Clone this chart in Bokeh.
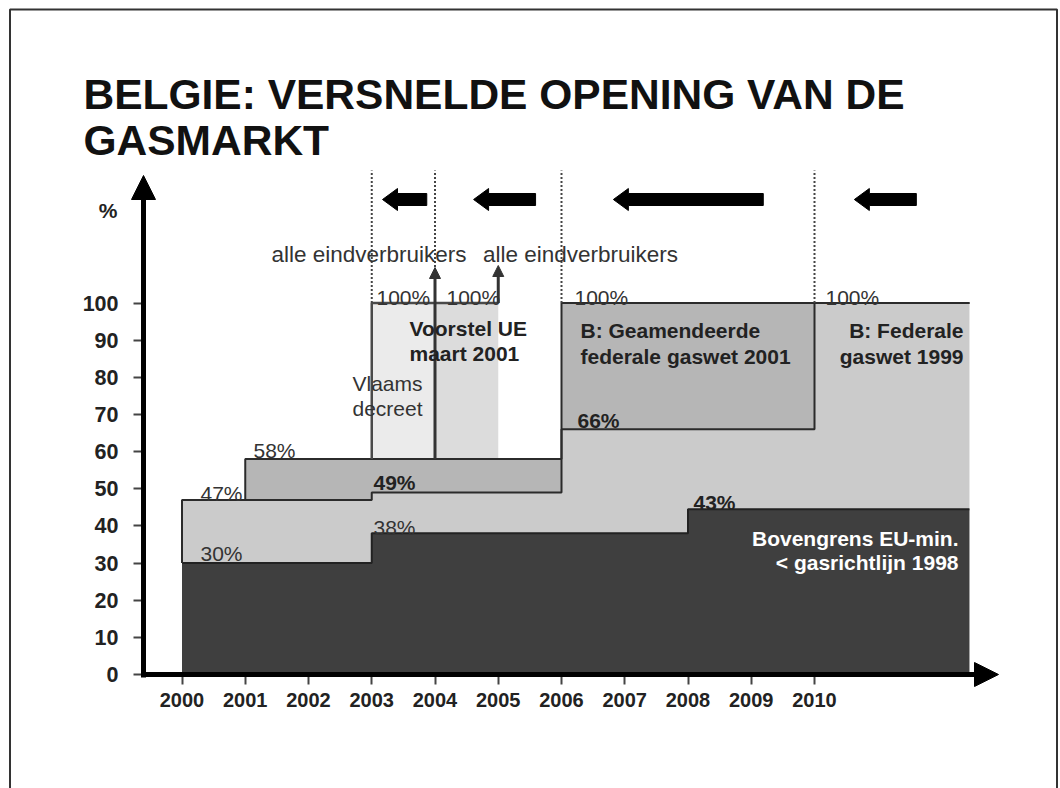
from bokeh.plotting import figure
from bokeh.models import Range1d, FixedTicker, Label, Arrow, NormalHead, PolyAnnotation
from bokeh.embed import file_html
from bokeh.resources import INLINE

# ---------------- data ----------------
years = [2000, 2001, 2002, 2003, 2004, 2005, 2006, 2007, 2008, 2009, 2010]
y_ticks = [0, 10, 20, 30, 40, 50, 60, 70, 80, 90, 100]
x_end = 2012.45

# Bovengrens EU-minimum (gasrichtlijn 1998)
eu_years = [2000, 2003, 2008]
eu_share = [30, 38, 44.5]
eu_labels = ["30%", "38%", "43%"]

# B: Federale gaswet 1999
fed99_years = [2000, 2003, 2006, 2010]
fed99_share = [47, 49, 66, 100]
fed99_labels = ["47%", "49%", "66%", "100%"]

# B: Geamendeerde federale gaswet 2001
fed01_years = [2001, 2006]
fed01_share = [58, 100]
fed01_labels = ["58%", "100%"]

# Vlaams decreet / Voorstel UE maart 2001
vlaams_years = [2003, 2004]
vlaams_share = 100
ue_years = [2004, 2005]
ue_share = 100

milestone_years = [2003, 2004, 2006, 2010]
speedup_tail = [2003.87, 2005.59, 2009.19, 2011.61]
speedup_tip = [2003.17, 2004.61, 2006.82, 2010.63]

title_lines = ["BELGIE: VERSNELDE OPENING VAN DE", "GASMARKT"]

# ---------------- geometry (frame = whole canvas) ----------------
W, H = 1060, 788
PX_YEAR = 63.25          # pixels per year
PX_PCT = 3.715           # pixels per percent
X0_PX, Y0_PX = 181.5, 674  # pixel position of (2000, 0)
XR = (2000 - X0_PX / PX_YEAR, 2000 + (W - X0_PX) / PX_YEAR)
YR = (-(H - Y0_PX) / PX_PCT, Y0_PX / PX_PCT)
ux = 1.0 / PX_YEAR
uy = 1.0 / PX_PCT


def sx(px):
    return XR[0] + px * ux


def sy(py):
    return YR[1] - py * uy


def step_val(xs, ys, x):
    v = None
    for a, b in zip(xs, ys):
        if a <= x:
            v = b
    return v


FONT = "Liberation Sans"

p = figure(width=W, height=H, output_backend="svg", toolbar_location=None,
           x_range=Range1d(*XR), y_range=Range1d(*YR), title=None,
           min_border_left=0, min_border_right=0, min_border_top=0,
           min_border_bottom=0)
p.outline_line_color = None
p.grid.visible = False
p.background_fill_color = "white"
p.border_fill_color = "white"

# axes (drawn inside the frame at the arrow positions)
p.xaxis.ticker = FixedTicker(ticks=years)
p.yaxis.ticker = FixedTicker(ticks=y_ticks)
p.xaxis.fixed_location = 0
p.yaxis.fixed_location = sx(143)
for ax in (p.xaxis, p.yaxis):
    ax.axis_line_color = None
    ax.major_tick_in = 0
    ax.major_tick_out = 10
    ax.minor_tick_out = 0
    ax.minor_tick_in = 0
    ax.major_tick_line_color = "#444444"
    ax.major_tick_line_width = 2
    ax.major_label_text_font = FONT
    ax.major_label_text_font_style = "bold"
    ax.major_label_text_color = "#222222"
p.yaxis.major_label_text_font_size = "21.5px"
p.xaxis.major_label_text_font_size = "20px"
p.yaxis.major_label_standoff = 15
p.xaxis.major_label_standoff = 8

# ---------------- filled areas ----------------
dark_x = eu_years + [x_end]
dark_y = eu_share + [eu_share[-1]]
p.varea_step(x=dark_x, y1=[0] * len(dark_x), y2=dark_y, step_mode="after",
             fill_color="#3f3f3f")

g1 = sorted(set(eu_years + fed99_years + [x_end]))
p.varea_step(x=g1, y1=[step_val(eu_years, eu_share, x) for x in g1],
             y2=[step_val(fed99_years, fed99_share, x) for x in g1],
             step_mode="after", fill_color="#cbcbcb")

g2 = sorted(set([x for x in eu_years + fed99_years + fed01_years + [x_end] if x >= fed01_years[0]]))
p.varea_step(x=g2, y1=[step_val(fed99_years, fed99_share, x) for x in g2],
             y2=[max(step_val(fed01_years, fed01_share, x), step_val(fed99_years, fed99_share, x)) for x in g2],
             step_mode="after", fill_color="#b6b6b6")

p.quad(left=[vlaams_years[0]], right=[vlaams_years[1]], bottom=[fed01_share[0]],
       top=[vlaams_share], fill_color="#ebebeb", line_color=None)
p.quad(left=[ue_years[0]], right=[ue_years[1]], bottom=[fed01_share[0]],
       top=[ue_share], fill_color="#dcdcdc", line_color=None)

# ---------------- outlines ----------------
OL = "#2b2b2b"
p.step(x=dark_x, y=dark_y, mode="after", line_color="#222222", line_width=2)
p.step(x=[fed99_years[0]] + fed99_years + [x_end],
       y=[eu_share[0]] + fed99_share + [fed99_share[-1]],
       mode="after", line_color=OL, line_width=2)
p.step(x=[fed01_years[0]] + fed01_years + [x_end],
       y=[step_val(fed99_years, fed99_share, fed01_years[0])] + fed01_share + [fed01_share[-1]],
       mode="after", line_color=OL, line_width=2)
p.line(x=[vlaams_years[0], vlaams_years[0], ue_years[1]],
       y=[fed01_share[0], vlaams_share, ue_share], line_color="#4a4a4a", line_width=2.5)

# dotted milestone lines
p.segment(x0=milestone_years, y0=[100] * len(milestone_years),
          x1=milestone_years, y1=[sy(170)] * len(milestone_years),
          line_dash="2 2", line_color="#444444", line_width=2)

# speed-up block arrows (pointing left)
hl, hh, sh, yc = 15 * ux, 11 * uy, 6 * uy, sy(199)
axs = [[t, t + hl, t + hl, e, e, t + hl, t + hl] for t, e in zip(speedup_tip, speedup_tail)]
ays = [[yc, yc + hh, yc + sh, yc + sh, yc - sh, yc - sh, yc - hh] for _ in speedup_tip]
p.patches(xs=axs, ys=ays, fill_color="black", line_color="black", line_width=1)

# small vertical arrows "alle eindverbruikers"
p.add_layout(Arrow(end=NormalHead(size=11, fill_color="#333333", line_color="#333333"),
                   x_start=vlaams_years[1], y_start=fed01_share[0], x_end=vlaams_years[1], y_end=sy(267),
                   line_color="#333333", line_width=3))
p.add_layout(Arrow(end=NormalHead(size=11, fill_color="#333333", line_color="#333333"),
                   x_start=ue_years[1], y_start=ue_share, x_end=ue_years[1], y_end=sy(265),
                   line_color="#333333", line_width=3))

# axis arrows
p.add_layout(Arrow(end=NormalHead(size=24, fill_color="black", line_color="black"),
                   x_start=sx(143), y_start=sy(677), x_end=sx(143), y_end=sy(175),
                   line_color="black", line_width=5))
p.add_layout(Arrow(end=NormalHead(size=24, fill_color="black", line_color="black"),
                   x_start=sx(140.5), y_start=0, x_end=sx(998), y_end=0,
                   line_color="black", line_width=5))

# slide border
p.add_layout(PolyAnnotation(xs=[sx(9.5), sx(9.5), sx(1056.5), sx(1056.5)],
                            ys=[sy(830), sy(9), sy(9), sy(830)],
                            fill_color=None, fill_alpha=0, line_color="#333333",
                            line_alpha=1.0, line_width=2))


# ---------------- texts ----------------
def label(x, y, text, size, bold=False, align="left", color="#222222"):
    p.add_layout(Label(x=x, y=y, text=text, text_font=FONT, text_font_size=f"{size}px",
                       text_font_style="bold" if bold else "normal",
                       text_align=align, text_baseline="alphabetic", text_color=color))


label(sx(83), sy(94), title_lines[0], 42.5, bold=True, color="#111111")
label(sx(83), sy(140), title_lines[1], 42.5, bold=True, color="#111111")
label(sx(107.5), sy(210), "%", 21, bold=True, align="center")

REG = 21
BLD = 21
# percentage labels (anchored to their data points)
label(eu_years[0] + 18.5 * ux, eu_share[0] + 9.5 * uy, eu_labels[0], REG, color="#333333")
label(eu_years[1] + 1.75 * ux, eu_share[1] + 5.8 * uy, eu_labels[1], REG, color="#333333")
label(eu_years[2] + 5.5 * ux, eu_share[2] + 6.7 * uy, eu_labels[2], BLD, bold=True)
label(fed99_years[0] + 18.5 * ux, fed99_share[0] + 6.4 * uy, fed99_labels[0], REG, color="#333333")
label(fed99_years[1] + 1.75 * ux, fed99_share[1] + 10 * uy, fed99_labels[1], BLD, bold=True)
label(fed99_years[2] + 16 * ux, fed99_share[2] + 8.8 * uy, fed99_labels[2], BLD, bold=True)
label(fed99_years[3] + 11 * ux, fed99_share[3] + 5.5 * uy, fed99_labels[3], REG, color="#333333")
label(fed01_years[0] + 8.25 * ux, fed01_share[0] + 8.5 * uy, fed01_labels[0], REG, color="#333333")
label(fed01_years[1] + 13 * ux, fed01_share[1] + 5.5 * uy, fed01_labels[1], REG, color="#333333")
label(vlaams_years[0] + 4.75 * ux, vlaams_share + 5.5 * uy, "100%", REG, color="#333333")
label(ue_years[0] + 11.5 * ux, ue_share + 5.5 * uy, "100%", REG, color="#333333")

label(sx(368.5), sy(254), "alle eindverbruikers", 22.5, align="center", color="#333333")
label(sx(580), sy(254), "alle eindverbruikers", 22.5, align="center", color="#333333")

label(sx(409), sy(328), "Voorstel UE", BLD, bold=True)
label(sx(409), sy(353), "maart 2001", BLD, bold=True)
label(sx(352), sy(383), "Vlaams", REG, color="#333333")
label(sx(352), sy(408), "decreet", REG, color="#333333")
label(sx(580), sy(330), "B: Geamendeerde", BLD, bold=True)
label(sx(580), sy(356), "federale gaswet 2001", BLD, bold=True)
label(sx(963), sy(330), "B: Federale", BLD, bold=True, align="right")
label(sx(963), sy(356), "gaswet 1999", BLD, bold=True, align="right")
label(sx(958), sy(538), "Bovengrens EU-min.", BLD, bold=True, align="right", color="white")
label(sx(958), sy(562), "< gasrichtlijn 1998", BLD, bold=True, align="right", color="white")

open("out.html", "w").write(file_html(p, INLINE))
